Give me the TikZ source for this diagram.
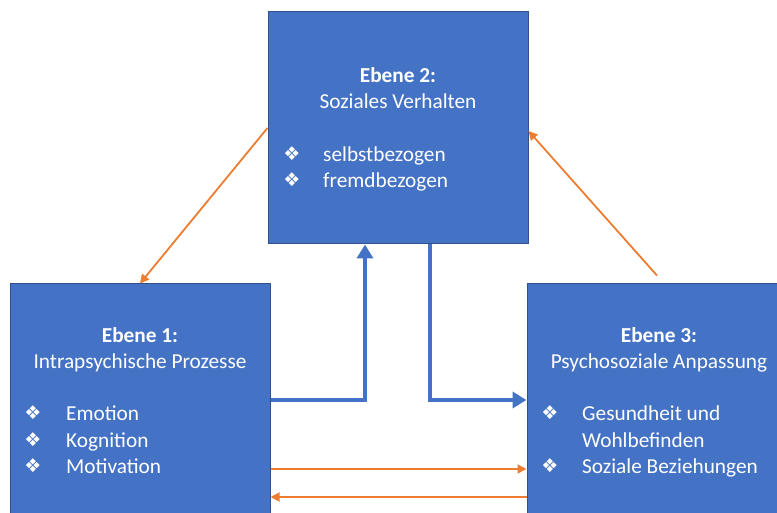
\documentclass[tikz,border=0pt]{standalone}
\usepackage{fontspec}
\setmainfont{Carlito}
\newfontfamily\symfont{DejaVu Sans}
\usetikzlibrary{arrows.meta}
\definecolor{boxblue}{HTML}{4472C4}
\definecolor{boxedge}{HTML}{2F528F}
\definecolor{arrorange}{HTML}{ED7D31}
\tikzset{
  ebox/.style={rectangle, fill=boxblue, draw=boxedge, line width=1pt, minimum width=260pt, inner sep=0pt},
  txt/.style={text=white, font=\fontsize{21.3}{26}\selectfont, inner sep=0pt},
  bul/.style={text=white, font=\symfont\fontsize{19}{20}\selectfont, inner sep=0pt, anchor=base},
  bluearr/.style={draw=boxblue, line width=4pt, -{Triangle[length=14pt,width=16pt]}},
  orarr/.style={draw=arrorange, line width=1.8pt, -{Triangle[length=9pt,width=9pt]}}
}
\begin{document}
\begin{tikzpicture}[x=1pt,y=-1pt]
\useasboundingbox (0,0) rectangle (777,513);
\clip (0,0) rectangle (777,513);
\fill[white] (0,0) rectangle (777,513);

% boxes
\node[ebox, minimum height=232pt] (top) at (398,128) {};
\node[ebox, minimum height=276pt] (left) at (140,422) {};
\node[ebox, minimum height=276pt] (right) at (657,422) {};

% top box text
\node[txt, anchor=base] (t2a) at (398,83) {\bfseries Ebene 2:};
\node[txt, anchor=base] (t2b) at (398,109) {Soziales Verhalten};
\node[bul] (b2a) at (292,161) {❖};
\node[bul] (b2b) at (292,187) {❖};
\node[txt, anchor=base west] (i2a) at (323,162) {selbstbezogen};
\node[txt, anchor=base west] (i2b) at (323,188) {fremdbezogen};

% left box text
\node[txt, anchor=base] (t1a) at (140,342) {\bfseries Ebene 1:};
\node[txt, anchor=base] (t1b) at (140,368) {Intrapsychische Prozesse};
\node[bul] (b1a) at (33,419) {❖};
\node[bul] (b1b) at (33,446) {❖};
\node[bul] (b1c) at (33,472) {❖};
\node[txt, anchor=base west] (i1a) at (66,420) {Emotion};
\node[txt, anchor=base west] (i1b) at (66,447) {Kognition};
\node[txt, anchor=base west] (i1c) at (66,473) {Motivation};

% right box text
\node[txt, anchor=base] (t3a) at (659,342) {\bfseries Ebene 3:};
\node[txt, anchor=base] (t3b) at (659,368) {Psychosoziale Anpassung};
\node[bul] (b3a) at (550,419) {❖};
\node[bul] (b3c) at (550,472) {❖};
\node[txt, anchor=base west] (i3a) at (582,420) {Gesundheit und};
\node[txt, anchor=base west] (i3b) at (582,447) {Wohlbefinden};
\node[txt, anchor=base west] (i3c) at (582,473) {Soziale Beziehungen};

% blue connectors
\coordinate (bl) at (365,400);
\coordinate (br) at (430,400);
\draw[bluearr] (left.east |- bl) -- (bl) -- (bl |- top.south);
\draw[bluearr] (br |- top.south) -- (br) -- (right.west |- br);

% orange connectors
\draw[orarr] (top.west) -- (left.north);
\draw[orarr] ([yshift=8pt]right.north) -- ([yshift=-3pt]top.east);
\coordinate (h1) at (0,469);
\coordinate (h2) at (0,497);
\draw[orarr] (left.east |- h1) -- (right.west |- h1);
\draw[orarr] (right.west |- h2) -- (left.east |- h2);
\end{tikzpicture}
\end{document}
